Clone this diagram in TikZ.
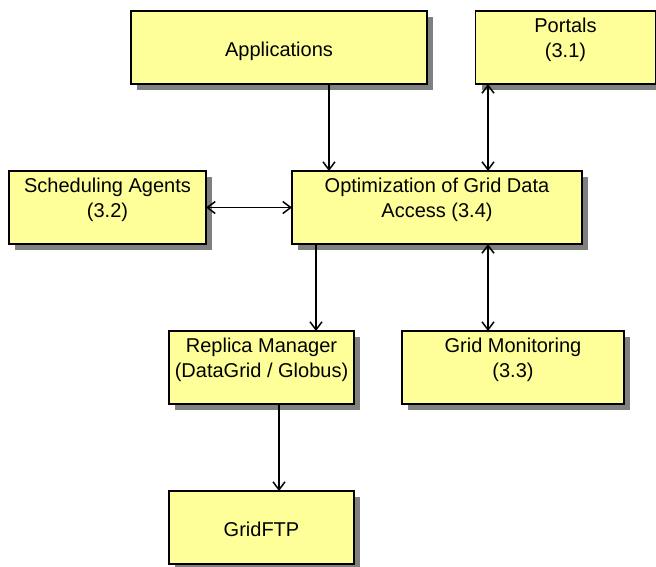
\documentclass[tikz,border=0pt]{standalone}
\usepackage{fontspec}
\setmainfont{Liberation Sans}
\usetikzlibrary{arrows.meta,shadows}
\definecolor{boxfill}{HTML}{FFFF99}
\definecolor{shadowgray}{HTML}{808080}
\tikzset{
  box/.style={draw, line width=1.6pt, fill=boxfill, minimum height=73pt,
    inner sep=0pt, outer sep=0pt,
    drop shadow={shadow xshift=6pt, shadow yshift=-6pt, fill=shadowgray, opacity=1}},
  onetext/.style={text height=18.4pt, text depth=0pt},
  boxtext/.style={anchor=north, align=center, inner sep=0pt, yshift=-6.5pt},
  arr/.style={line width=1.5pt, -{Straight Barb[length=8pt,width=12pt]}},
  biarr/.style={line width=1.5pt, {Straight Barb[length=8pt,width=12pt]}-{Straight Barb[length=8pt,width=12pt]}}
}
\begin{document}
\begin{tikzpicture}[x=1pt, y=-1pt, font=\fontsize{20}{25}\selectfont]
  \useasboundingbox (0,0) rectangle (656,566);

  \node[box, onetext, minimum width=296pt] (apps) at (279,47.5) {Applications};
  \node[box, minimum width=180pt, label={[boxtext]north:{Portals\\(3.1)}}] (portals) at (565.5,47.5) {};
  \node[box, minimum width=197pt, label={[boxtext]north:{Scheduling Agents\\(3.2)}}] (sched) at (107.5,207.5) {};
  \node[box, minimum width=290pt, label={[boxtext]north:{Optimization of Grid Data\\Access (3.4)}}] (opt) at (437,207.5) {};
  \node[box, minimum width=185pt, label={[boxtext]north:{Replica Manager\\(DataGrid / Globus)}}] (replica) at (261.5,367.5) {};
  \node[box, minimum width=222pt, label={[boxtext]north:{Grid Monitoring\\(3.3)}}] (monitor) at (513,367.5) {};
  \node[box, onetext, minimum width=185pt] (gridftp) at (261.5,527.5) {GridFTP};

  \draw[arr] ([xshift=50pt]apps.south) -- ([xshift=50pt]apps.south |- opt.north);
  \draw[biarr] ([xshift=51pt]opt.north) -- ([xshift=51pt]opt.north |- portals.south);
  \draw[biarr] (sched.east) -- (opt.west);
  \draw[arr] ([xshift=-121pt]opt.south) -- ([xshift=-121pt]opt.south |- replica.north);
  \draw[biarr] ([xshift=51pt]opt.south) -- ([xshift=51pt]opt.south |- monitor.north);
  \draw[arr] ([xshift=17.5pt]replica.south) -- ([xshift=17.5pt]replica.south |- gridftp.north);
\end{tikzpicture}
\end{document}
